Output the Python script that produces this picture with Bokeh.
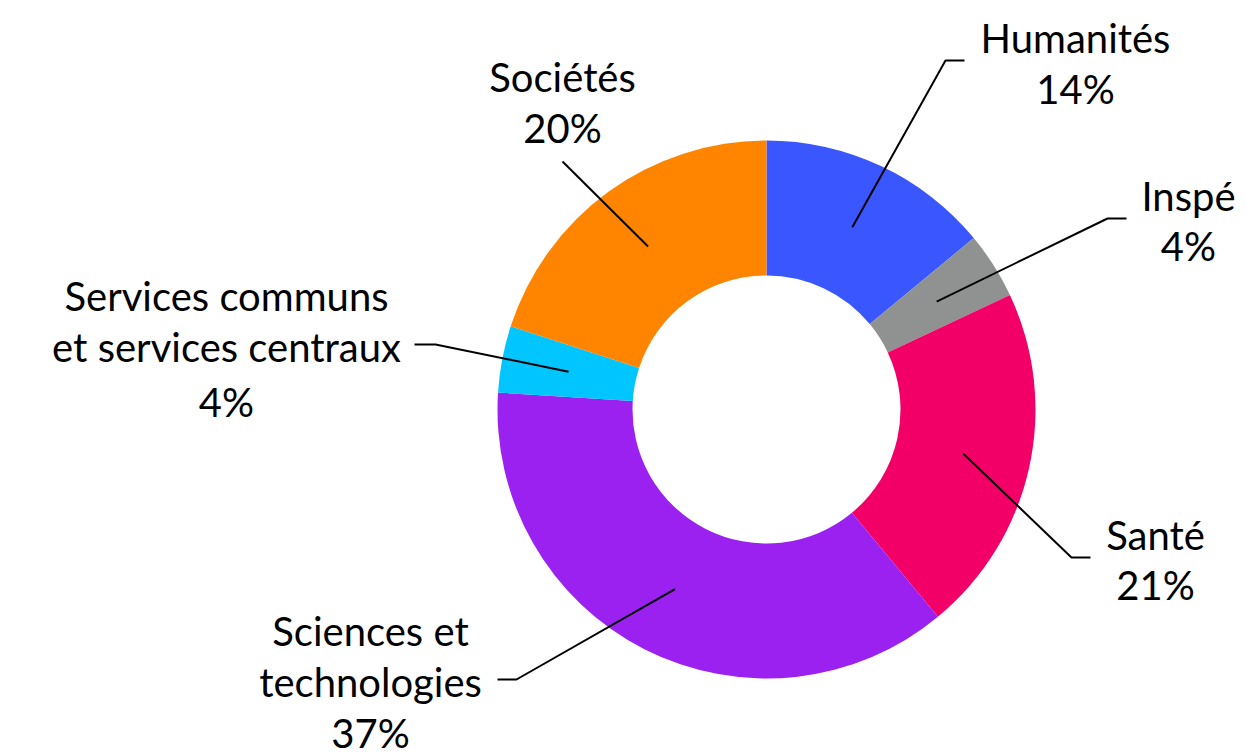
import math
from bokeh.plotting import figure
from bokeh.models import ColumnDataSource, Range1d
from bokeh.core.properties import value
from bokeh.embed import file_html
from bokeh.resources import INLINE

# ---- data ----
categories = ["Humanités", "Inspé", "Santé", "Sciences et technologies",
              "Services communs et services centraux", "Sociétés"]
shares = [14, 4, 21, 37, 4, 20]
colors = ["#3a56ff", "#909291", "#f20068", "#9b21f0", "#00c5ff", "#ff8500"]
label_lines = [["Humanités"], ["Inspé"], ["Santé"], ["Sciences et", "technologies"],
               ["Services communs", "et services centraux"], ["Sociétés"]]

# ---- layout (screen pixel coords of the page) ----
W, H = 1250, 756
def Y(sy):
    return H - sy

CX, CY = 766, Y(409)
R_OUT, R_IN = 269, 134
FONT = "Lato"
FS = "40px"

# label layout: text centre x, first line y, line step; leader elbow and end (screen px)
label_layout = [
    dict(tx=1075, ty=37, step=51, elbow=(945, 60), end=(964, 60)),
    dict(tx=1188, ty=195, step=50, elbow=(1107, 218), end=(1126, 218)),
    dict(tx=1155, ty=534, step=50, elbow=(1071, 557), end=(1090, 557)),
    dict(tx=370, ty=630, step=51, elbow=(516, 679), end=(497, 679)),
    dict(tx=226, ty=295, step=51, elbow=(435, 344), end=(414, 344), pct_gap=55),
    dict(tx=562, ty=76, step=51, elbow=None, end=(562, 161)),
]

total = float(sum(shares))
starts, ends, mids = [], [], []
acc = 0.0
for s in shares:
    a0 = math.pi / 2 - 2 * math.pi * acc / total
    acc += s
    a1 = math.pi / 2 - 2 * math.pi * acc / total
    starts.append(a0)
    ends.append(a1)
    mids.append((a0 + a1) / 2)

p = figure(width=W, height=H, x_range=Range1d(0, W), y_range=Range1d(0, H),
           output_backend="svg", toolbar_location=None, min_border=0)
p.axis.visible = False
p.grid.visible = False
p.outline_line_color = None
p.background_fill_color = "white"
p.border_fill_color = "white"

src = ColumnDataSource(dict(start=starts, end=ends, color=colors))
p.annular_wedge(x=CX, y=CY, inner_radius=R_IN, outer_radius=R_OUT,
                start_angle="start", end_angle="end", direction="clock",
                fill_color="color", line_color=None, source=src)

tx, ty, tt = [], [], []
for i, cat in enumerate(categories):
    lay = label_layout[i]
    rm = (R_IN + R_OUT) / 2
    sx = CX + rm * math.cos(mids[i])
    sy = CY + rm * math.sin(mids[i])
    xs = [sx]
    ys = [sy]
    if lay["elbow"] is not None:
        xs.append(lay["elbow"][0]); ys.append(Y(lay["elbow"][1]))
    xs.append(lay["end"][0]); ys.append(Y(lay["end"][1]))
    p.line(xs, ys, line_color="black", line_width=2)
    lines = label_lines[i]
    y = lay["ty"]
    for ln in lines:
        tx.append(lay["tx"]); ty.append(Y(y)); tt.append(ln)
        y += lay["step"]
    y += lay.get("pct_gap", lay["step"]) - lay["step"]
    tx.append(lay["tx"]); ty.append(Y(y)); tt.append(f"{shares[i]}%")

p.text(x=tx, y=ty, text=tt, text_align="center", text_baseline="middle",
       text_font=value(FONT), text_font_size=FS, text_color="black")

open("out.html", "w").write(file_html(p, INLINE))
